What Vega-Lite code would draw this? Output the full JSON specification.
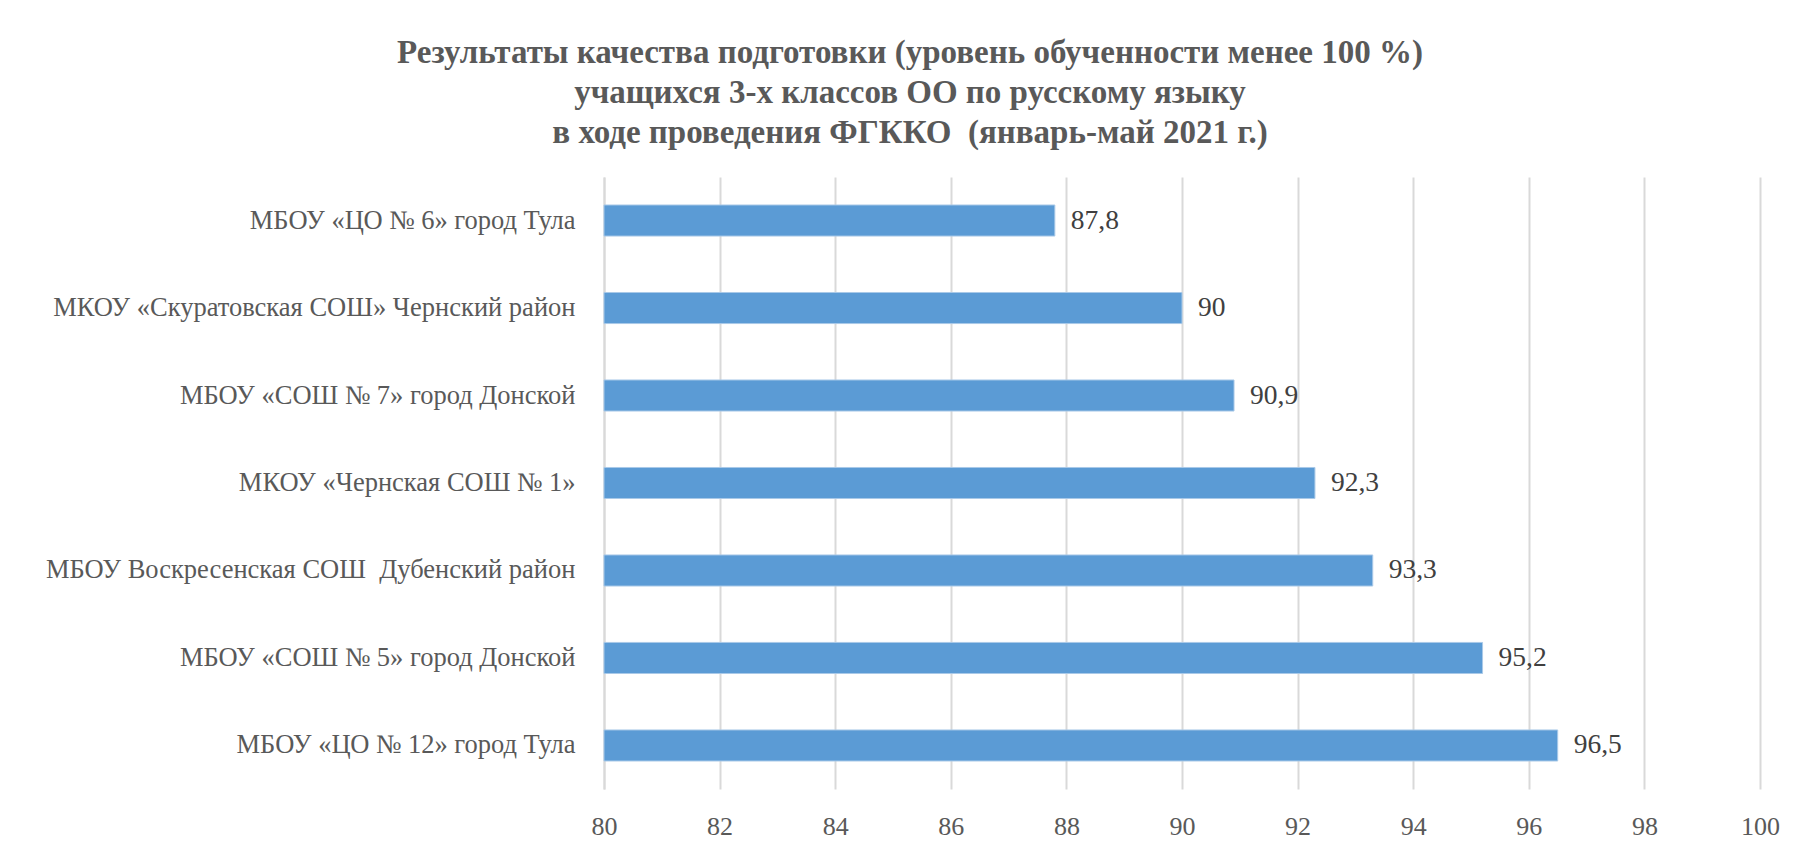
{
  "$schema": "https://vega.github.io/schema/vega-lite/v6.json",
  "autosize": {"type": "none"},
  "width": 1156,
  "height": 612,
  "padding": {"left": 604, "top": 177, "right": 34, "bottom": 67},
  "background": "white",
  "config": {
    "locale": {"number": {"decimal": ",", "thousands": " ", "grouping": [3], "currency": ["", ""]}},
    "view": {"stroke": null},
    "font": "Liberation Serif"
  },
  "title": {
    "text": ["Результаты качества подготовки (уровень обученности менее 100 %)", "учащихся 3-х классов ОО по русскому языку", "в ходе проведения ФГККО\u00a0 (январь-май 2021 г.)"],
    "font": "Liberation Serif",
    "fontSize": 33,
    "fontWeight": "bold",
    "color": "#595959",
    "lineHeight": 40,
    "anchor": "middle",
    "dx": -272,
    "offset": 27
  },
  "data": {
    "values": [
      {"school": "МБОУ «ЦО № 6» город Тула", "value": 87.8},
      {"school": "МКОУ «Скуратовская СОШ» Чернский район", "value": 90},
      {"school": "МБОУ «СОШ № 7» город Донской", "value": 90.9},
      {"school": "МКОУ «Чернская СОШ № 1»\u00a0", "value": 92.3},
      {"school": "МБОУ Воскресенская СОШ\u00a0 Дубенский район", "value": 93.3},
      {"school": "МБОУ «СОШ № 5» город Донской", "value": 95.2},
      {"school": "МБОУ «ЦО № 12» город Тула", "value": 96.5}
    ]
  },
  "encoding": {
    "y": {
      "field": "school",
      "type": "nominal",
      "sort": {"field": "value", "order": "ascending"},
      "scale": {"paddingInner": 0.645, "paddingOuter": 0.32},
      "axis": {
        "title": null,
        "ticks": false,
        "domain": true,
        "domainColor": "#d9d9d9",
        "domainWidth": 2,
        "labelFont": "Liberation Serif",
        "labelFontSize": 26.5,
        "labelColor": "#595959",
        "labelPadding": 29,
        "labelLimit": 700
      }
    },
    "x": {
      "field": "value",
      "type": "quantitative",
      "scale": {"domain": [80, 100], "zero": false},
      "axis": {
        "title": null,
        "values": [80, 82, 84, 86, 88, 90, 92, 94, 96, 98, 100],
        "format": "d",
        "ticks": false,
        "domain": false,
        "grid": true,
        "gridColor": "#d9d9d9",
        "gridWidth": 2,
        "labelFlush": false,
        "labelFont": "Liberation Serif",
        "labelFontSize": 26,
        "labelColor": "#595959",
        "labelPadding": 24
      }
    }
  },
  "layer": [
    {
      "mark": {"type": "bar", "color": "#5b9bd5", "stroke": "#a9c9e8", "strokeWidth": 1},
      "encoding": {"x2": {"datum": 80}}
    },
    {
      "mark": {"type": "text", "align": "left", "baseline": "middle", "dx": 16, "fontSize": 27.5, "color": "#404040", "font": "Liberation Serif"},
      "encoding": {"text": {"field": "value", "type": "quantitative", "format": "~g"}}
    }
  ]
}
